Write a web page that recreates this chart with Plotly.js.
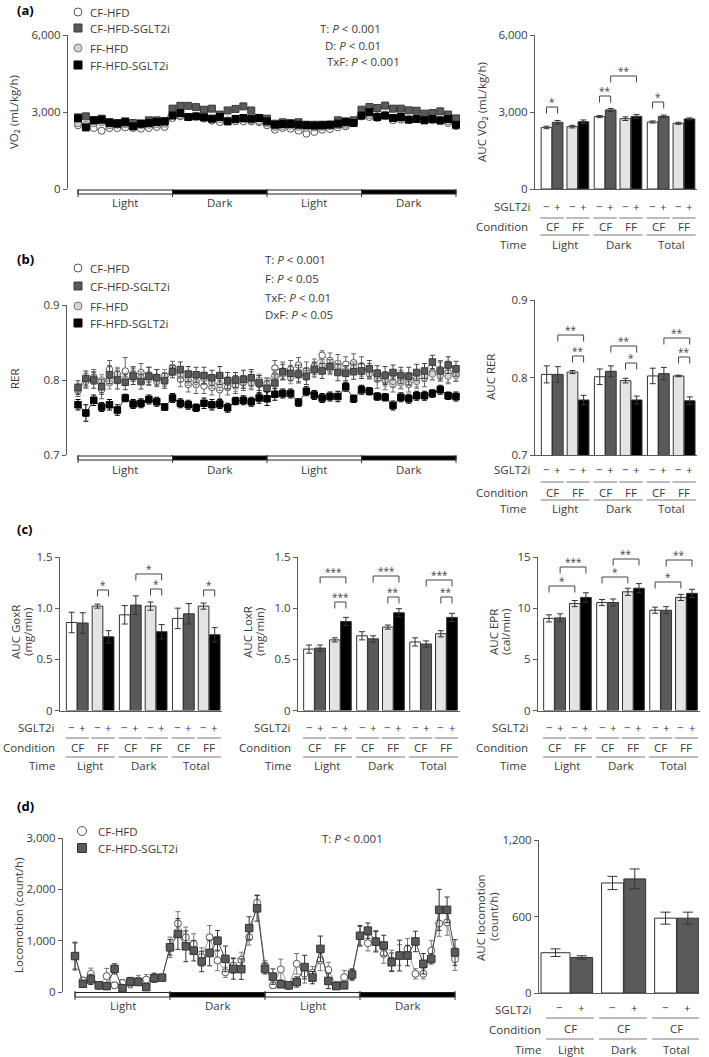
<!DOCTYPE html>
<html>
<head>
<meta charset="utf-8">
<script src="https://cdn.plot.ly/plotly-3.0.1.min.js"></script>
<style>html,body{margin:0;padding:0;background:#fff}#chart{width:709px;height:1057px}</style>
</head>
<body>
<div id="chart"></div>
<script>
// ---------------- DATA ----------------
const hours = [0,1,2,3,4,5,6,7,8,9,10,11,12,13,14,15,16,17,18,19,20,21,22,23,24,25,26,27,28,29,30,31,32,33,34,35,36,37,38,39,40,41,42,43,44,45,46,47,48];
const periods = ['Light', 'Dark', 'Light', 'Dark'];
const seriesNames = ['CF-HFD', 'CF-HFD-SGLT2i', 'FF-HFD', 'FF-HFD-SGLT2i'];
const aucTimes = ['Light', 'Dark', 'Total'];
const conditions = ['CF', 'FF'];
const sglt = ['\u2212', '+'];

// (a) VO2 time course (mL/kg/h)
const vo2CF  = [2480,2470,2375,2270,2375,2375,2400,2375,2350,2375,2415,2415, 2765,2830,2805,2830,2740,2660,2610,2635,2635,2635,2635,2600, 2480,2310,2375,2350,2270,2155,2220,2310,2335,2400,2440,2570, 2830,2805,2765,2870,2675,2700,2700,2730,2700,2675,2635,2570,2450];
const vo2CFS = [2790,2830,2675,2740,2610,2570,2635,2570,2545,2675,2675,2635, 3130,3240,3240,3190,3090,3130,2900,3060,3120,3220,3060,2770, 2740,2545,2600,2570,2600,2505,2505,2505,2505,2675,2635,2675, 3090,3195,3155,3250,3130,3130,3065,3050,2935,2960,3025,2900,2750];
const vo2FF  = [2560,2500,2560,2600,2480,2500,2520,2450,2480,2500,2520,2540, 2880,2880,2800,2820,2780,2700,2720,2680,2700,2720,2680,2650, 2560,2420,2450,2460,2420,2380,2400,2420,2450,2480,2500,2600, 2900,2880,2850,2900,2780,2760,2720,2720,2700,2700,2680,2640,2560];
const vo2FFS = [2750,2400,2675,2700,2570,2545,2600,2440,2545,2570,2610,2635, 2860,2960,2805,2830,2790,2740,2805,2635,2730,2765,2740,2765, 2635,2505,2530,2530,2505,2480,2470,2480,2505,2545,2600,2570, 2860,2990,2805,2860,2765,2805,2700,2730,2675,2730,2675,2730,2500];
// (a) AUC VO2: Light(CF-,CF+,FF-,FF+), Dark(...), Total(...)
const vo2Auc    = [2400,2600,2430,2620, 2820,3080,2740,2830, 2610,2830,2560,2730];
const vo2AucErr = [50,70,50,70, 40,60,70,70, 40,50,40,40];
const vo2Ticks = [0, 3000, 6000];
const vo2TickText = ['0', '3,000', '6,000'];

// (b) RER time course
const rerCF  = [0.786,0.799,0.804,0.787,0.814,0.805,0.812,0.808,0.810,0.807,0.804,0.800, 0.817,0.801,0.794,0.794,0.792,0.790,0.787,0.790,0.794,0.796,0.799,0.794, 0.790,0.816,0.812,0.814,0.820,0.812,0.818,0.833,0.826,0.822,0.821,0.823, 0.819,0.812,0.801,0.799,0.794,0.801,0.794,0.801,0.803,0.810,0.814,0.810,0.808];
const rerCFS = [0.790,0.802,0.800,0.791,0.807,0.800,0.797,0.805,0.798,0.805,0.803,0.799, 0.811,0.814,0.808,0.807,0.806,0.803,0.806,0.799,0.800,0.801,0.803,0.796, 0.789,0.796,0.811,0.809,0.808,0.805,0.814,0.812,0.818,0.810,0.809,0.811, 0.812,0.815,0.809,0.806,0.810,0.806,0.805,0.810,0.812,0.824,0.812,0.820,0.815];
const rerFF  = [0.788,0.798,0.802,0.800,0.796,0.808,0.801,0.806,0.803,0.802,0.798,0.806, 0.813,0.806,0.800,0.798,0.802,0.796,0.794,0.797,0.792,0.797,0.796,0.800, 0.795,0.806,0.808,0.803,0.806,0.809,0.815,0.820,0.815,0.818,0.812,0.816, 0.813,0.808,0.806,0.800,0.798,0.796,0.802,0.798,0.806,0.808,0.806,0.805,0.806];
const rerFFS = [0.767,0.756,0.773,0.764,0.767,0.760,0.776,0.768,0.769,0.774,0.771,0.764, 0.776,0.769,0.767,0.763,0.769,0.767,0.768,0.763,0.772,0.773,0.771,0.776, 0.775,0.781,0.782,0.782,0.770,0.785,0.780,0.776,0.778,0.778,0.791,0.775, 0.787,0.785,0.778,0.777,0.766,0.777,0.775,0.779,0.779,0.782,0.787,0.779,0.778];
const rerCFErr  = [0.008,0.010,0.010,0.012,0.012,0.010,0.018,0.010,0.012,0.010,0.010,0.008, 0.008,0.010,0.010,0.012,0.010,0.010,0.012,0.010,0.012,0.010,0.012,0.012, 0.012,0.010,0.012,0.012,0.010,0.012,0.010,0.006,0.010,0.012,0.010,0.012, 0.012,0.010,0.012,0.012,0.010,0.012,0.010,0.012,0.012,0.010,0.012,0.015,0.010];
const rerCFSErr = [0.009,0.010,0.011,0.010,0.012,0.012,0.010,0.011,0.010,0.012,0.011,0.010, 0.008,0.010,0.010,0.010,0.011,0.010,0.012,0.011,0.010,0.012,0.011,0.010, 0.010,0.012,0.010,0.010,0.012,0.011,0.010,0.010,0.009,0.011,0.010,0.010, 0.010,0.011,0.010,0.012,0.010,0.011,0.012,0.011,0.010,0.009,0.012,0.011,0.010];
const rerFFErr  = [0.007,0.008,0.008,0.007,0.008,0.009,0.008,0.007,0.008,0.008,0.007,0.008, 0.007,0.008,0.007,0.008,0.008,0.007,0.008,0.008,0.007,0.008,0.007,0.008, 0.008,0.008,0.007,0.008,0.008,0.007,0.008,0.007,0.008,0.008,0.007,0.008, 0.008,0.007,0.008,0.008,0.007,0.008,0.008,0.007,0.008,0.007,0.008,0.008,0.007];
const rerFFSErr = [0.007,0.011,0.007,0.006,0.007,0.007,0.005,0.006,0.006,0.006,0.006,0.004, 0.006,0.006,0.006,0.005,0.007,0.007,0.006,0.006,0.005,0.006,0.006,0.007, 0.009,0.008,0.006,0.006,0.005,0.006,0.006,0.006,0.006,0.007,0.006,0.005, 0.006,0.005,0.005,0.005,0.006,0.006,0.006,0.006,0.006,0.005,0.006,0.005,0.006];
const rerAuc    = [0.804,0.804,0.807,0.771, 0.801,0.808,0.796,0.771, 0.802,0.805,0.802,0.770];
const rerAucErr = [0.011,0.010,0.002,0.006, 0.010,0.007,0.003,0.005, 0.010,0.008,0.001,0.005];
const rerTicks = [0.7, 0.8, 0.9];
const rerTickText = ['0.7', '0.8', '0.9'];

// (c) AUC GoxR, LoxR (mg/min), EPR (cal/min)
const goxAuc    = [0.86,0.855,1.02,0.72, 0.935,1.03,1.02,0.77, 0.90,0.945,1.02,0.74];
const goxAucErr = [0.10,0.10,0.02,0.06, 0.09,0.09,0.04,0.07, 0.10,0.10,0.03,0.07];
const loxAuc    = [0.60,0.61,0.69,0.87, 0.73,0.70,0.815,0.955, 0.67,0.65,0.75,0.91];
const loxAucErr = [0.04,0.03,0.02,0.04, 0.04,0.03,0.02,0.04, 0.04,0.03,0.03,0.04];
const eprAuc    = [9.0,9.05,10.45,11.05, 10.55,10.55,11.6,11.95, 9.8,9.8,11.05,11.45];
const eprAucErr = [0.35,0.4,0.3,0.45, 0.3,0.35,0.35,0.45, 0.3,0.35,0.3,0.4];
const oxTicks = [0, 0.5, 1.0, 1.5];
const oxTickText = ['0', '0.5', '1.0', '1.5'];
const eprTicks = [0, 5, 10, 15];
const eprTickText = ['0', '5', '10', '15'];

// (d) Locomotion (count/h)
const locoCF  = [700,225,355,115,310,130,175,160,225,240,290,280, 870,1335,1065,935,680,1065,615,385,515,625,1065,1740, 515,130,440,115,550,355,375,615,430,140,290,340, 1095,950,1000,740,615,720,840,355,355,805,1335,1355,640];
const locoCFS = [700,160,245,130,115,450,75,205,195,95,270,280, 870,1130,890,805,595,760,1000,645,450,445,1245,1630, 450,300,150,130,195,485,280,840,215,115,130,340, 1095,1195,980,905,580,710,710,985,550,645,1600,1600,770];
const locoCFErr  = [250,60,110,40,150,60,70,80,100,100,80,60, 200,230,200,200,180,230,200,100,150,150,150,150, 100,60,200,50,200,180,120,200,150,60,130,120, 180,150,200,180,200,200,200,100,100,200,250,250,220];
const locoCFSErr = [270,60,100,50,60,100,50,80,60,60,80,60, 150,300,300,200,200,250,200,250,200,200,220,250, 100,150,60,50,100,230,120,250,150,60,60,100, 200,150,200,200,180,300,200,200,200,100,400,250,250];
const locoAuc    = [316, 279, 863, 895, 587, 587];
const locoAucErr = [30, 13, 52, 78, 47, 47];
const locoTicks = [0, 1000, 2000, 3000];
const locoTickText = ['0', '1,000', '2,000', '3,000'];
const locoAucTicks = [0, 600, 1200];
const locoAucTickText = ['0', '600', '1,200'];

// ---------------- LAYOUT HELPERS ----------------
const W = 709, H = 1057;
const FONT = 'Open Sans, Noto Sans, sans-serif';
const TXT = '#3a3a3a', AXC = '#5a5a5a';
const FS = 11.5;
const fx = p => p / W, fy = p => 1 - p / H;
const layout = {
  width: W, height: H, margin: {l: 0, r: 0, t: 0, b: 0},
  paper_bgcolor: '#ffffff', plot_bgcolor: 'rgba(0,0,0,0)', showlegend: false,
  font: {family: FONT, size: FS, color: TXT},
  shapes: [], annotations: []
};
const data = [];
let nAx = 0;
function addAxes(o) {
  nAx += 1;
  const s = nAx === 1 ? '' : String(nAx);
  const ax = Object.assign({x: 'x' + s, y: 'y' + s}, o);
  layout['xaxis' + s] = {
    domain: [fx(o.axPx), fx(o.endPx)],
    range: [(o.axPx - o.orgPx) / o.unit, (o.endPx - o.orgPx) / o.unit],
    anchor: ax.y, showgrid: false, zeroline: false, showticklabels: false, ticks: '',
    showline: !!o.baseline, linecolor: AXC, linewidth: 1, fixedrange: true
  };
  layout['yaxis' + s] = {
    domain: [fy(o.ybPx), fy(o.ytPx)], range: o.yrange, anchor: ax.x,
    showgrid: false, zeroline: false, showline: true, linecolor: AXC, linewidth: 1,
    ticks: 'outside', ticklen: 4, tickwidth: 1, tickcolor: AXC,
    tickmode: 'array', tickvals: o.tickvals, ticktext: o.ticktext,
    tickfont: {family: FONT, size: FS, color: TXT}, fixedrange: true
  };
  return ax;
}
function txt(text, xPx, yPx, anchor, extra) {
  layout.annotations.push(Object.assign({
    text: text, x: fx(xPx), y: fy(yPx), xref: 'paper', yref: 'paper',
    xanchor: anchor || 'left', yanchor: 'middle', showarrow: false,
    font: {family: FONT, size: FS, color: TXT}
  }, extra || {}));
}
function panelLetter(text, yPx) {
  txt(text, 15, yPx, 'left', {font: {family: FONT, size: 13, color: '#000000', weight: 'bold'}});
}
function dtxt(ax, text, xData, yPx, extra) {
  layout.annotations.push(Object.assign({
    text: text, x: xData, y: fy(yPx), xref: ax.x, yref: 'paper',
    xanchor: 'center', yanchor: 'middle', showarrow: false,
    font: {family: FONT, size: FS, color: TXT}
  }, extra || {}));
}
function dline(ax, x0, x1, yPx, color) {
  layout.shapes.push({type: 'line', xref: ax.x, yref: 'paper', x0: x0, x1: x1,
    y0: fy(yPx), y1: fy(yPx), line: {color: color || '#7a7a7a', width: 1}});
}
function yTitle(text, xPx, yPx) {
  txt(text, xPx, yPx, 'center', {textangle: -90});
}
function legendItem(cx, cy, symbol, fill, edge, label, textPx, r) {
  layout.shapes.push({type: symbol === 'circle' ? 'circle' : 'rect', xref: 'paper', yref: 'paper',
    x0: fx(cx - r), x1: fx(cx + r), y0: fy(cy + r), y1: fy(cy - r),
    fillcolor: fill, line: {color: edge, width: 1}});
  txt(label, textPx, cy, 'left');
}
function lightDark(ax, topPx, botPx, tickTop, tickBot, labelPx) {
  periods.forEach((p, k) => {
    layout.shapes.push({type: 'rect', xref: ax.x, yref: 'paper', x0: k * 12, x1: (k + 1) * 12,
      y0: fy(botPx), y1: fy(topPx), fillcolor: p === 'Dark' ? '#000000' : '#ffffff',
      line: {color: '#222222', width: 1}});
    dtxt(ax, p, k * 12 + 6, labelPx);
  });
  [0, 12, 24, 36, 48].forEach(h => {
    layout.shapes.push({type: 'line', xref: ax.x, yref: 'paper', x0: h, x1: h,
      y0: fy(tickBot), y1: fy(tickTop), line: {color: '#333333', width: 1}});
  });
}
const stCF  = {symbol: 'circle', fill: '#ffffff', edge: '#555555', line: '#8a8a8a', errc: '#666666'};
const stCFS = {symbol: 'square', fill: '#5a5a5a', edge: '#3a3a3a', line: '#5a5a5a', errc: '#444444'};
const stFF  = {symbol: 'circle', fill: '#d4d4d4', edge: '#7a7a7a', line: '#a0a0a0', errc: '#888888'};
const stFFS = {symbol: 'square', fill: '#000000', edge: '#000000', line: '#333333', errc: '#000000'};
function addSeries(ax, name, y, err, st, size) {
  const tr = {type: 'scatter', mode: 'lines+markers', name: name, x: hours, y: y,
    xaxis: ax.x, yaxis: ax.y, line: {color: st.line, width: 1},
    marker: {symbol: st.symbol, size: size, color: st.fill, line: {color: st.edge, width: 1}},
    hoverinfo: 'skip', cliponaxis: false};
  if (err) tr.error_y = {type: 'data', array: err, visible: true, color: st.errc, thickness: 1, width: 2.5};
  data.push(tr);
}
const BAR_COLORS = ['#ffffff', '#5a5a5a', '#e4e4e4', '#000000'];
const barPos = i => i + 0.32 * Math.floor(i / 2) + 0.13 * Math.floor(i / 4);
function addBars12(ax, vals, errs) {
  data.push({type: 'bar', x: vals.map((_, i) => barPos(i)), y: vals, xaxis: ax.x, yaxis: ax.y,
    width: 0.96, marker: {color: vals.map((_, i) => BAR_COLORS[i % 4]), line: {color: '#333333', width: 1}},
    error_y: {type: 'data', array: errs, visible: true, color: '#333333', thickness: 1, width: 3},
    hoverinfo: 'skip'});
}
function rows12(ax, r) {
  for (let i = 0; i < 12; i++) dtxt(ax, sglt[i % 2], barPos(i), r.sg);
  for (let p = 0; p < 6; p++) {
    dline(ax, barPos(2 * p) - 0.55, barPos(2 * p + 1) + 0.55, r.l1);
    dtxt(ax, conditions[p % 2], (barPos(2 * p) + barPos(2 * p + 1)) / 2, r.cond);
  }
  for (let g = 0; g < 3; g++) {
    dline(ax, barPos(4 * g) - 0.55, barPos(4 * g + 3) + 0.55, r.l2);
    dtxt(ax, aucTimes[g], (barPos(4 * g) + barPos(4 * g + 3)) / 2, r.time);
  }
  txt('SGLT2i', r.lx[0], r.sg, 'right');
  txt('Condition', r.lx[1], r.cond, 'right');
  txt('Time', r.lx[2], r.time, 'right');
}
function bracket(ax, i, j, topPx, label) {
  const xi = barPos(i), xj = barPos(j), tk = 6.5;
  layout.shapes.push({type: 'path', xref: ax.x, yref: 'paper',
    path: 'M ' + xi + ',' + fy(topPx + tk) + ' L ' + xi + ',' + fy(topPx) + ' L ' + xj + ',' + fy(topPx) + ' L ' + xj + ',' + fy(topPx + tk),
    line: {color: '#444444', width: 1}});
  layout.annotations.push({text: label, x: (xi + xj) / 2, xref: ax.x, y: fy(topPx), yref: 'paper',
    xanchor: 'center', yanchor: 'bottom', yshift: -4, showarrow: false,
    font: {family: FONT, size: 10, color: '#444444'}});
}
const TU = 378 / 48, BU = 11.12;

// ---------------- PANEL (a) ----------------
const axA = addAxes({axPx: 68, endPx: 460, orgPx: 78, unit: TU, ybPx: 189, ytPx: 35, yrange: [0, 6000], tickvals: vo2Ticks, ticktext: vo2TickText});
addSeries(axA, seriesNames[0], vo2CF, null, stCF, 7);
addSeries(axA, seriesNames[2], vo2FF, null, stFF, 7);
addSeries(axA, seriesNames[1], vo2CFS, null, stCFS, 7);
addSeries(axA, seriesNames[3], vo2FFS, null, stFFS, 7);
lightDark(axA, 190, 194, 189, 197, 203);
yTitle('VO\u2082 (mL/kg/h)', 14, 112);
panelLetter('(a)', 10);
legendItem(78, 12, 'circle', '#ffffff', '#555555', seriesNames[0], 88, 4);
legendItem(78, 28, 'rect', '#5a5a5a', '#3a3a3a', seriesNames[1], 88, 4);
legendItem(78, 48, 'circle', '#d4d4d4', '#7a7a7a', seriesNames[2], 88, 4);
legendItem(78, 65, 'rect', '#000000', '#000000', seriesNames[3], 88, 4);
txt('T: <i>P</i> &lt; 0.001', 318, 28);
txt('D: <i>P</i> &lt; 0.01', 323, 45);
txt('TxF: <i>P</i> &lt; 0.001', 325, 61);

const axA2 = addAxes({axPx: 535, endPx: 697, orgPx: 546.5, unit: BU, ybPx: 189, ytPx: 35, yrange: [0, 6000], tickvals: vo2Ticks, ticktext: vo2TickText, baseline: true});
addBars12(axA2, vo2Auc, vo2AucErr);
yTitle('AUC VO\u2082 (mL/kg/h)', 482, 112);
rows12(axA2, {sg: 206, l1: 218, cond: 226, l2: 235, time: 244, lx: [533, 530, 528]});
bracket(axA2, 0, 1, 107, '*');
bracket(axA2, 4, 5, 96, '**');
bracket(axA2, 5, 7, 76, '**');
bracket(axA2, 8, 9, 102, '*');

// ---------------- PANEL (b) ----------------
const axB = addAxes({axPx: 67, endPx: 460, orgPx: 78, unit: TU, ybPx: 455, ytPx: 305, yrange: [0.7, 0.9], tickvals: rerTicks, ticktext: rerTickText});
addSeries(axB, seriesNames[0], rerCF, rerCFErr, stCF, 6.5);
addSeries(axB, seriesNames[2], rerFF, rerFFErr, stFF, 6.5);
addSeries(axB, seriesNames[1], rerCFS, rerCFSErr, stCFS, 6.5);
addSeries(axB, seriesNames[3], rerFFS, rerFFSErr, stFFS, 6.5);
lightDark(axB, 456, 460, 455, 463, 469);
yTitle('RER', 14, 379);
panelLetter('(b)', 259);
legendItem(78, 268, 'circle', '#ffffff', '#555555', seriesNames[0], 88, 4);
legendItem(78, 286, 'rect', '#5a5a5a', '#3a3a3a', seriesNames[1], 88, 4);
legendItem(78, 306, 'circle', '#d4d4d4', '#7a7a7a', seriesNames[2], 88, 4);
legendItem(78, 323, 'rect', '#000000', '#000000', seriesNames[3], 88, 4);
txt('T: <i>P</i> &lt; 0.001', 263, 259);
txt('F: <i>P</i> &lt; 0.05', 263, 278);
txt('TxF: <i>P</i> &lt; 0.01', 263, 297);
txt('DxF: <i>P</i> &lt; 0.05', 263, 315);

const axB2 = addAxes({axPx: 535, endPx: 697, orgPx: 546.7, unit: BU, ybPx: 455, ytPx: 300, yrange: [0.7, 0.9], tickvals: rerTicks, ticktext: rerTickText, baseline: true});
addBars12(axB2, rerAuc, rerAucErr);
yTitle('AUC RER', 490, 377);
rows12(axB2, {sg: 469, l1: 482, cond: 492, l2: 500, time: 508, lx: [533, 530, 528]});
bracket(axB2, 1, 3, 335, '**');
bracket(axB2, 2, 3, 356, '**');
bracket(axB2, 5, 7, 346, '**');
bracket(axB2, 6, 7, 363, '*');
bracket(axB2, 9, 11, 338, '**');
bracket(axB2, 10, 11, 357, '**');

// ---------------- PANEL (c) ----------------
panelLetter('(c)', 529);
const rowsC = {sg: 727, l1: 738, cond: 747, l2: 757, time: 765};
const axC1 = addAxes({axPx: 60, endPx: 222, orgPx: 71.7, unit: BU, ybPx: 710.5, ytPx: 557, yrange: [0, 1.5], tickvals: oxTicks, ticktext: oxTickText, baseline: true});
addBars12(axC1, goxAuc, goxAucErr);
yTitle('AUC GoxR', 15, 632);
yTitle('(mg/min)', 27, 632);
rows12(axC1, Object.assign({lx: [57, 57, 57]}, rowsC));
bracket(axC1, 2, 3, 590, '*');
bracket(axC1, 5, 7, 574, '*');
bracket(axC1, 6, 7, 589, '*');
bracket(axC1, 10, 11, 590, '*');

const axC2 = addAxes({axPx: 298, endPx: 460, orgPx: 309, unit: BU, ybPx: 710.5, ytPx: 557, yrange: [0, 1.5], tickvals: oxTicks, ticktext: oxTickText, baseline: true});
addBars12(axC2, loxAuc, loxAucErr);
yTitle('AUC LoxR', 247, 632);
yTitle('(mg/min)', 259, 632);
rows12(axC2, Object.assign({lx: [293, 293, 293]}, rowsC));
bracket(axC2, 1, 3, 577, '***');
bracket(axC2, 2, 3, 602, '***');
bracket(axC2, 5, 7, 576, '***');
bracket(axC2, 6, 7, 597, '**');
bracket(axC2, 9, 11, 580, '***');
bracket(axC2, 10, 11, 597, '**');

const axC3 = addAxes({axPx: 538, endPx: 700, orgPx: 549, unit: BU, ybPx: 710.5, ytPx: 557, yrange: [0, 15], tickvals: eprTicks, ticktext: eprTickText, baseline: true});
addBars12(axC3, eprAuc, eprAucErr);
yTitle('AUC EPR', 493, 632);
yTitle('(cal/min)', 505, 632);
rows12(axC3, Object.assign({lx: [531, 530, 528]}, rowsC));
bracket(axC3, 0, 2, 586, '*');
bracket(axC3, 1, 3, 567, '***');
bracket(axC3, 4, 6, 577, '*');
bracket(axC3, 5, 7, 559, '**');
bracket(axC3, 8, 10, 582, '*');
bracket(axC3, 9, 11, 560, '**');

// ---------------- PANEL (d) ----------------
const axD = addAxes({axPx: 63, endPx: 460, orgPx: 75, unit: 380 / 48, ybPx: 992, ytPx: 838, yrange: [0, 3000], tickvals: locoTicks, ticktext: locoTickText});
addSeries(axD, seriesNames[0], locoCF, locoCFErr, {symbol: 'circle', fill: '#ffffff', edge: '#555555', line: '#9a9a9a', errc: '#777777'}, 7);
addSeries(axD, seriesNames[1], locoCFS, locoCFSErr, {symbol: 'square', fill: '#5a5a5a', edge: '#333333', line: '#444444', errc: '#333333'}, 7.5);
lightDark(axD, 992.5, 997, 991, 1000, 1005);
yTitle('Locomotion (count/h)', 18, 915);
panelLetter('(d)', 806);
legendItem(82, 831, 'circle', '#ffffff', '#555555', seriesNames[0], 96, 4.5);
legendItem(82, 848, 'rect', '#5a5a5a', '#333333', seriesNames[1], 96, 4.5);
txt('T: <i>P</i> &lt; 0.001', 320, 838);

const DU = 22.3;
const dPos = i => i + 0.38 * Math.floor(i / 2);
const axD2 = addAxes({axPx: 539, endPx: 699, orgPx: 559.4, unit: DU, ybPx: 993, ytPx: 840, yrange: [0, 1200], tickvals: locoAucTicks, ticktext: locoAucTickText, baseline: true});
data.push({type: 'bar', x: locoAuc.map((_, i) => dPos(i)), y: locoAuc, xaxis: axD2.x, yaxis: axD2.y,
  width: locoAuc.map((_, i) => i === 0 ? 1.3 : 0.98), offset: locoAuc.map((_, i) => i === 0 ? -0.825 : -0.49),
  marker: {color: locoAuc.map((_, i) => i % 2 ? '#5a5a5a' : '#ffffff'), line: {color: '#333333', width: 1}},
  error_y: {type: 'data', array: locoAucErr, visible: true, color: '#333333', thickness: 1, width: 5},
  hoverinfo: 'skip'});
yTitle('AUC locomotion', 480, 917);
yTitle('(count/h)', 493, 917);
for (let i = 0; i < 6; i++) dtxt(axD2, sglt[i % 2], dPos(i), 1007);
for (let p = 0; p < 3; p++) {
  const a = dPos(2 * p), b = dPos(2 * p + 1);
  dline(axD2, a - 0.6, b + 0.55, 1018);
  dtxt(axD2, conditions[0], (a + b) / 2, 1028);
  dline(axD2, a - 0.6, b + 0.55, 1039);
  dtxt(axD2, aucTimes[p], (a + b) / 2, 1049);
}
txt('SGLT2i', 534, 1009, 'right');
txt('Condition', 543, 1029, 'right');
txt('Time', 543, 1049, 'right');

Plotly.newPlot('chart', data, layout, {displayModeBar: false, staticPlot: true});
</script>
</body>
</html>
